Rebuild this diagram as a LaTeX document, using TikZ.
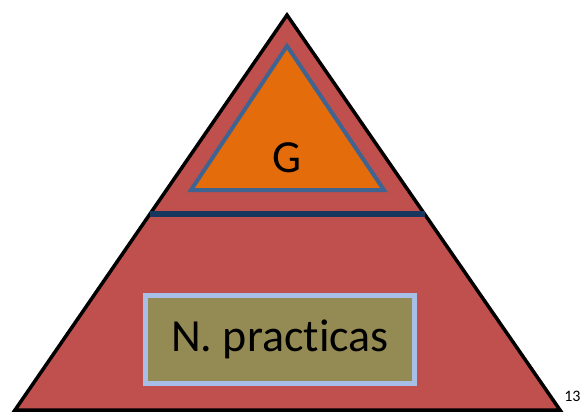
\documentclass[tikz,border=0pt]{standalone}
\usepackage{fontspec}
\setmainfont[Ligatures=NoCommon]{Carlito}
\definecolor{outred}{HTML}{C0504D}
\definecolor{inorange}{HTML}{E46C0A}
\definecolor{inblue}{HTML}{3F6491}
\definecolor{darkline}{HTML}{17375E}
\definecolor{olive}{HTML}{948A54}
\definecolor{lightb}{HTML}{A7BFE6}
\begin{document}
\begin{tikzpicture}[x=1pt,y=-1pt,
  outertri/.style={fill=outred,draw=black,line width=3.5pt,line join=miter},
  innertri/.style={fill=inorange,draw=inblue,line width=4pt,line join=miter},
  sepline/.style={draw=darkline,line width=6pt},
  labelbox/.style={fill=olive,draw=lightb,line width=5pt,minimum width=269pt,minimum height=88pt,inner sep=0pt},
  bigtext/.style={font=\fontsize{46}{50}\selectfont,text=black}]
\useasboundingbox (0,0) rectangle (584,413);
\coordinate (apex) at (287,15);
\coordinate (bl) at (15,410);
\coordinate (br) at (560,410);
\draw[outertri] (apex) -- (br) -- (bl) -- cycle;
\coordinate (iapex) at (287,46);
\coordinate (ibl) at (191,190);
\coordinate (ibr) at (384,190);
\draw[innertri] (iapex) -- (ibr) -- (ibl) -- cycle;
\coordinate (sl) at (150,214);
\coordinate (sr) at (425,214);
\draw[sepline] (sl) -- (sr);
\node[bigtext] (g) at (287,158) {G};
\node[labelbox,bigtext] (np) at (280,339.5) {N. prac\kern0pt ticas};
\node[font=\fontsize{16}{19}\selectfont,anchor=east] (num) at (584,396) {13};
\end{tikzpicture}
\end{document}
